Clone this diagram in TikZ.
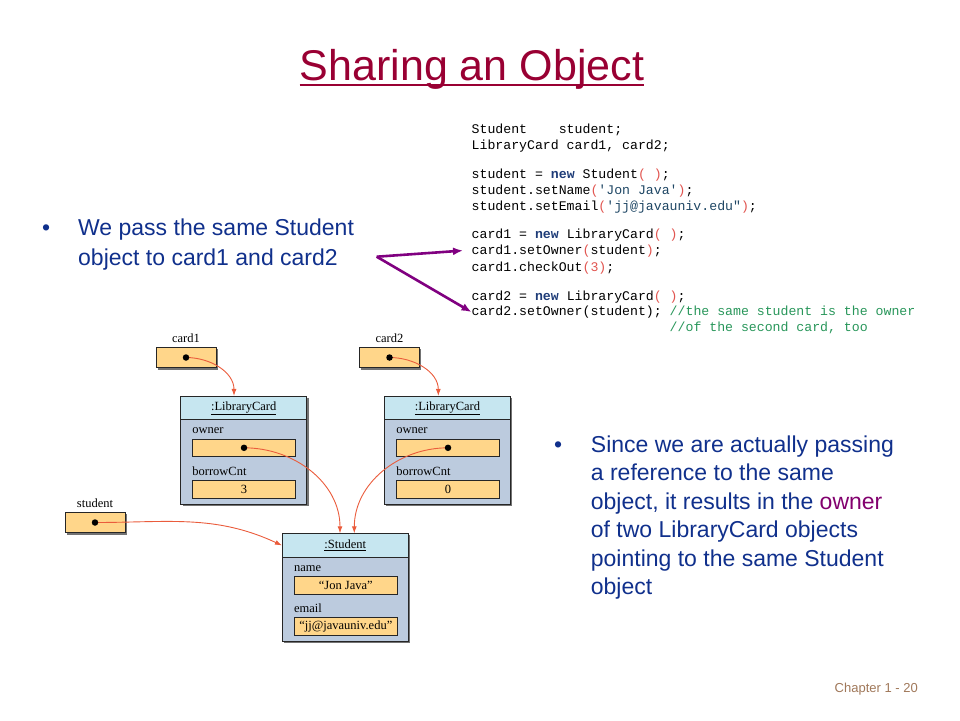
\documentclass[tikz,border=0pt]{standalone}
\usepackage{fontspec}
\setmainfont{Liberation Sans}
\newfontfamily\objfont{Liberation Serif}
\newfontfamily\codefont{Liberation Mono}
\usepackage{xcolor}
\usepackage{tikz}
\usetikzlibrary{calc}
\usetikzlibrary{arrows.meta}
\usetikzlibrary{positioning}
\usetikzlibrary{shadows}
\definecolor{titlered}{RGB}{153,0,51}
\definecolor{textblue}{RGB}{16,48,140}
\definecolor{ownerpurple}{RGB}{130,0,110}
\definecolor{chapbrown}{RGB}{160,120,90}
\definecolor{headblue}{RGB}{198,230,240}
\definecolor{bodyblue}{RGB}{188,203,222}
\definecolor{fieldorange}{RGB}{255,214,138}
\definecolor{refred}{RGB}{234,92,60}
\definecolor{arrowpurple}{RGB}{128,0,128}
\definecolor{kwblue}{RGB}{30,60,120}
\definecolor{strblue}{RGB}{30,70,100}
\definecolor{parenred}{RGB}{225,85,80}
\definecolor{cmgreen}{RGB}{40,150,90}
\newcommand{\jkw}[1]{\textbf{\color{kwblue}#1}}
\newcommand{\jpr}[1]{\textcolor{parenred}{#1}}
\newcommand{\jstr}[1]{\textcolor{strblue}{#1}}
\newcommand{\jcm}[1]{\textcolor{cmgreen}{#1}}
\tikzset{>=latex}
\tikzstyle{objshadow} = [drop shadow={shadow xshift=1.8pt, shadow yshift=-1.8pt, fill=black!55, opacity=1}]
\tikzstyle{objbody} = [rectangle, draw=black!85, line width=0.7pt, fill=bodyblue, minimum width=126pt, inner sep=0pt, objshadow]
\tikzstyle{objhead} = [rectangle, draw=black!85, line width=0.7pt, fill=headblue, minimum width=126pt, minimum height=23.5pt, inner sep=0pt, font=\objfont\fontsize{12.5}{14}\selectfont]
\tikzstyle{field} = [rectangle, draw=black!85, line width=0.7pt, fill=fieldorange, minimum width=103pt, minimum height=17.5pt, inner sep=0pt, font=\objfont\fontsize{12.5}{14}\selectfont]
\tikzstyle{refbox} = [field, minimum width=60pt, minimum height=20.5pt, objshadow]
\tikzstyle{fieldname} = [anchor=base west, inner sep=0pt, font=\objfont\fontsize{12.5}{14}\selectfont]
\tikzstyle{varname} = [inner sep=1pt, font=\objfont\fontsize{12.5}{14}\selectfont]
\tikzstyle{dot} = [circle, fill=black, inner sep=0pt, minimum size=6.5pt]
\tikzstyle{ref} = [-{Latex[length=7pt,width=5pt]}, draw=refred, line width=0.9pt]
\tikzstyle{pointer} = [-{Latex[length=10pt,width=8pt]}, draw=arrowpurple, line width=2.6pt]
\tikzstyle{code} = [anchor=base west, inner sep=0pt, font=\codefont\fontsize{13.2}{16}\selectfont]
\tikzstyle{bullettext} = [anchor=base west, align=left, inner sep=0pt, text=textblue]

\begin{document}
\begin{tikzpicture}[x=1pt, y=-1pt]
\useasboundingbox (0,0) rectangle (960,720);
% title
\node [font=\fontsize{43}{50}\selectfont, text=titlered, inner sep=0pt, anchor=base] (title) at (472,80) {Sharing an Object};
\draw [titlered, line width=2.6pt] ([yshift=-5pt]title.base west) -- ([yshift=-5pt]title.base east);

% bullets (base = last line)
\node [bullettext, font=\fontsize{23}{30}\selectfont] (b1) at (42,235) {\textbullet};
\node [bullettext, font=\fontsize{23}{30}\selectfont] (t1) at (78,265) {We pass the same Student\\object to card1 and card2};
\node [bullettext, font=\fontsize{23}{28.5}\selectfont] (b2) at (554,452.3) {\textbullet};
\node [bullettext, font=\fontsize{23}{28.5}\selectfont] (t2) at (590.7,594.8) {Since we are actually passing\\a reference to the same\\object, it results in the \textcolor{ownerpurple}{owner}\\of two LibraryCard objects\\pointing to the same Student\\object};

% code
\node [code] (l1) at (471.5,133) {Student~~~~student;};
\node [code] (l2) at (471.5,149) {LibraryCard card1, card2;};
\node [code] (l3) at (471.5,178) {student = \jkw{new} Student\jpr{( )};};
\node [code] (l4) at (471.5,194) {student.setName\jpr{(}\jstr{\textquotesingle Jon Java\textquotesingle}\jpr{)};};
\node [code] (l5) at (471.5,210) {student.setEmail\jpr{(}\jstr{\textquotesingle jj@javauniv.edu"}\jpr{)};};
\node [code] (l6) at (471.5,238) {card1 = \jkw{new} LibraryCard\jpr{( )};};
\node [code] (l7) at (471.5,254) {card1.setOwner\jpr{(}student\jpr{)};};
\node [code] (l8) at (471.5,271) {card1.checkOut\jpr{(3)};};
\node [code] (l9) at (471.5,300) {card2 = \jkw{new} LibraryCard\jpr{( )};};
\node [code] (l10) at (471.5,315.5) {card2.setOwner(student); \jcm{//the same student is the owner}};
\node [code] (l11) at (471.5,331.5) {\hphantom{card2.setOwner(student);~}\jcm{//of the second card, too}};

\coordinate (fork) at (376.7,256.7);
\draw [pointer] (fork) -- ([xshift=-8.5pt]l7.west);
\draw [pointer] (fork) -- (l10.west);

% variables
\node [refbox] (c1) at (186,357.5) {};
\node [varname, above=3pt of c1] (c1lbl) {card1};
\node [refbox] (c2) at (389.5,357.5) {};
\node [varname, above=3pt of c2] (c2lbl) {card2};
\node [refbox] (s) at (95,522.5) {};
\node [varname, above=3pt of s] (slbl) {student};

% library card objects
\node [objbody, minimum height=108pt] (lc1) at (243.7,450.3) {};
\node [objhead, anchor=north] (lc1h) at (lc1.north) {\underline{:LibraryCard}};
\node [field] (lc1o) at (244,447.8) {};
\node [field] (lc1b) at (244,489.3) {3};
\node [fieldname] (lc1on) at ([yshift=5pt]lc1o.north west) {owner};
\node [fieldname] (lc1bn) at ([yshift=5pt]lc1b.north west) {borrowCnt};

\node [objbody, minimum height=108pt] (lc2) at (447.5,450.3) {};
\node [objhead, anchor=north] (lc2h) at (lc2.north) {\underline{:LibraryCard}};
\node [field] (lc2o) at (448,447.8) {};
\node [field] (lc2b) at (448,489.3) {0};
\node [fieldname] (lc2on) at ([yshift=5pt]lc2o.north west) {owner};
\node [fieldname] (lc2bn) at ([yshift=5pt]lc2b.north west) {borrowCnt};

% student object
\node [objbody, minimum height=107.3pt] (st) at (345.3,587.3) {};
\node [objhead, anchor=north] (sth) at (st.north) {\underline{:Student}};
\node [field] (stn) at (345.8,585.3) {“Jon Java”};
\node [field] (ste) at (345.8,626.5) {“jj@javauniv.edu”};
\node [fieldname] (stnn) at ([yshift=5pt]stn.north west) {name};
\node [fieldname] (sten) at ([yshift=5pt]ste.north west) {email};

% references
\draw [ref] (c1.center) to [out=0, in=90] ([xshift=-9.7pt]lc1.north);
\draw [ref] (c2.center) to [out=0, in=90] ([xshift=-9.2pt]lc2.north);
\draw [ref] (lc1o.center) to [out=0, in=90] ([xshift=-5.3pt]st.north);
\draw [ref] (lc2o.center) to [out=180, in=90] ([xshift=9pt]st.north);
\draw [ref] (s.center) to [out=0, in=155] (sth.west);
\node [dot] (c1d) at (c1.center) {};
\node [dot] (c2d) at (c2.center) {};
\node [dot] (sd) at (s.center) {};
\node [dot] (lc1d) at (lc1o.center) {};
\node [dot] (lc2d) at (lc2o.center) {};

\node [font=\fontsize{13}{15}\selectfont, text=chapbrown, anchor=base east, inner sep=0pt] (chap) at (918,692) {Chapter 1 - 20};
\end{tikzpicture}
\end{document}
